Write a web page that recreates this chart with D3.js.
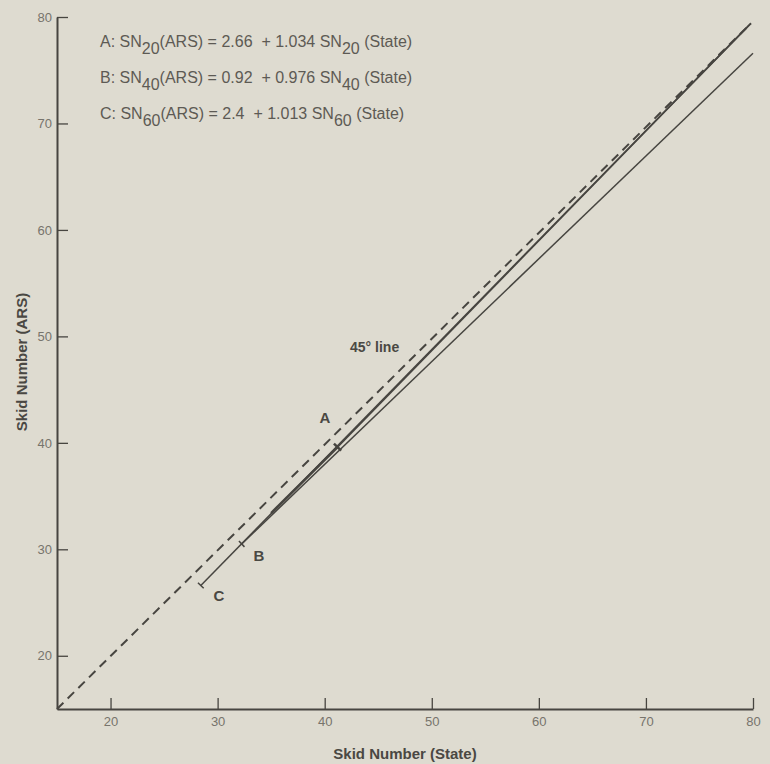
<!DOCTYPE html>
<html lang="en">
<head>
<meta charset="utf-8">
<title>Skid Number ARS vs State</title>
<script src="https://cdn.jsdelivr.net/npm/d3@7"></script>
<style>
  body { margin: 0; background: #dedbd0; }
  svg { display: block; }
  text { font-family: "Liberation Sans", Arial, sans-serif; }
</style>
</head>
<body>
<script>
// values
var ticks = [20, 30, 40, 50, 60, 70, 80];
var names = ["A", "B", "C"];
var subs = ["20", "40", "60"];
var intercepts = ["2.66", "0.92", "2.4"];
var slopes = ["1.034", "0.976", "1.013"];
// line end points [state, ars]
var line45 = [[15, 15], [79.8, 79.4]];
var lineA = [[41.2, 39.6], [79.8, 79.4]];
var lineB = [[32.25, 30.5], [80, 76.6]];
var lineC = [[28.43, 26.6], [79.8, 79.4]];

var w = 770, h = 764;
var ink = "#474540";

var svg = d3.select("body").append("svg")
  .attr("width", w)
  .attr("height", h);

var x = d3.scaleLinear().domain([15, 80]).range([57, 753]);
var y = d3.scaleLinear().domain([15, 80]).range([709, 17]);

// axes, ticks pointing inward
var xAxis = d3.axisBottom(x).tickValues(ticks).tickSize(-11).tickSizeOuter(0).tickPadding(8);
var yAxis = d3.axisLeft(y).tickValues(ticks).tickSize(-11).tickSizeOuter(0).tickPadding(5);

var gx = svg.append("g").attr("transform", "translate(0," + y(15) + ")").call(xAxis);
var gy = svg.append("g").attr("transform", "translate(" + x(15) + ",0)").call(yAxis);

[gx, gy].forEach(function(g) {
  g.select(".domain").attr("stroke", ink).attr("stroke-width", 2);
  g.selectAll(".tick line").attr("stroke", ink).attr("stroke-width", 1.3);
  g.selectAll(".tick text")
    .attr("fill", "#77746c")
    .attr("font-size", "13px")
    .attr("font-family", "'Liberation Sans', Arial, sans-serif");
});

// axis titles
svg.append("text")
  .attr("x", 405).attr("y", 759)
  .attr("text-anchor", "middle")
  .attr("font-size", "15px").attr("font-weight", "bold")
  .attr("fill", "#4a4843")
  .text("Skid Number (State)");

svg.append("text")
  .attr("transform", "translate(27,362) rotate(-90)")
  .attr("text-anchor", "middle")
  .attr("font-size", "15px").attr("font-weight", "bold")
  .attr("fill", "#4a4843")
  .text("Skid Number (ARS)");

var lineGen = d3.line()
  .x(function(d) { return x(d[0]); })
  .y(function(d) { return y(d[1]); });

svg.append("path").datum(line45)
  .attr("d", lineGen)
  .attr("fill", "none").attr("stroke", ink)
  .attr("stroke-width", 2).attr("stroke-dasharray", "9,6");

[lineA, lineB, lineC].forEach(function(l) {
  svg.append("path").datum(l)
    .attr("d", lineGen)
    .attr("fill", "none").attr("stroke", ink)
    .attr("stroke-width", 1.5);
});

// little cross marks where each line starts
function startMark(l, len, sw) {
  var x0 = x(l[0][0]), y0 = y(l[0][1]);
  var dx = x(l[1][0]) - x0, dy = y(l[1][1]) - y0;
  var n = Math.sqrt(dx * dx + dy * dy);
  var px = -dy / n * len, py = dx / n * len;
  svg.append("line")
    .attr("x1", x0 - px).attr("y1", y0 - py)
    .attr("x2", x0 + px).attr("y2", y0 + py)
    .attr("stroke", ink).attr("stroke-width", sw);
}
startMark(lineA, 5, 2.5);
startMark(lineB, 4, 1.5);
startMark(lineC, 4, 1.5);

// thicker overlap between B and A
svg.append("path").datum([[35, 33.4], [41.2, 39.6]])
  .attr("d", lineGen)
  .attr("fill", "none").attr("stroke", ink)
  .attr("stroke-width", 2.6);

// line labels
var labelPos = [[325, 423], [259, 561], [219, 601]];
svg.selectAll("text.lab").data(names)
  .enter().append("text")
  .attr("class", "lab")
  .attr("x", function(d, i) { return labelPos[i][0]; })
  .attr("y", function(d, i) { return labelPos[i][1]; })
  .attr("text-anchor", "middle")
  .attr("font-size", "15px").attr("font-weight", "bold")
  .attr("fill", "#4a4843")
  .text(function(d) { return d; });

svg.append("text")
  .attr("x", 350).attr("y", 352)
  .attr("font-size", "14px").attr("font-weight", "bold")
  .attr("fill", "#4a4843")
  .text("45\u00b0 line");

// regression equations
var eq = svg.selectAll("text.eq").data(names)
  .enter().append("text")
  .attr("class", "eq")
  .attr("x", 100)
  .attr("y", function(d, i) { return 47 + i * 36; })
  .attr("font-size", "16px")
  .attr("fill", "#5d5a54");

eq.each(function(d, i) {
  var t = d3.select(this);
  t.append("tspan").text(d + ": SN");
  t.append("tspan").attr("dy", 7).text(subs[i]);
  t.append("tspan").attr("dy", -7).text("(ARS) = " + intercepts[i] + "\u00a0\u00a0+ " + slopes[i] + " SN");
  t.append("tspan").attr("dy", 7).text(subs[i]);
  t.append("tspan").attr("dy", -7).text(" (State)");
});
</script>
</body>
</html>
